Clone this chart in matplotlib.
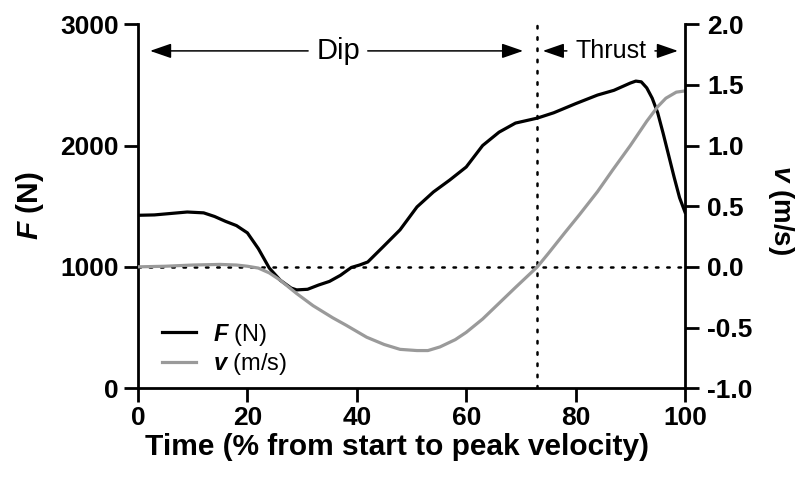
import matplotlib
matplotlib.use("Agg")
import matplotlib.pyplot as plt

plt.rcParams['font.family'] = ['Liberation Sans', 'DejaVu Sans']
plt.rcParams['mathtext.fontset'] = 'custom'
plt.rcParams['mathtext.rm'] = 'Liberation Sans'
plt.rcParams['mathtext.it'] = 'Liberation Sans:italic'
plt.rcParams['mathtext.bf'] = 'Liberation Sans:bold'
if 'mathtext.bfit' in plt.rcParams:
    plt.rcParams['mathtext.bfit'] = 'Liberation Sans:bold:italic'

# force trace (N) vs time (% from start to peak velocity)
time_f = [0, 3, 6, 9, 12, 14, 16, 18, 20, 22, 24, 26, 28, 29, 31, 33, 35, 37,
          39, 40.5, 42, 44.8, 47.9, 51, 54, 57, 60, 63, 66, 69, 73, 76, 80, 84,
          87, 89, 90, 91, 92, 93, 94, 95, 96, 97, 98, 99, 100]
force = [1425, 1428, 1440, 1452, 1445, 1415, 1375, 1340, 1280, 1150, 990, 890,
         825, 810, 815, 850, 880, 930, 995, 1015, 1040, 1165, 1305, 1494, 1617,
         1716, 1823, 2000, 2110, 2185, 2226, 2270, 2345, 2416, 2455, 2495,
         2515, 2531, 2525, 2475, 2390, 2270, 2100, 1920, 1740, 1570, 1450]

# velocity trace (m/s)
time_v = [0, 5, 10, 15, 18, 20, 22, 24, 26, 29, 32, 35.6, 38, 41.8, 45, 47.9,
          51, 53, 55.2, 58, 60, 63, 66, 69, 73, 75, 78, 80.7, 84, 86.8, 90, 93,
          95, 96.5, 98.4, 100]
vel = [0.0, 0.005, 0.015, 0.02, 0.015, 0.005, -0.01, -0.05, -0.11, -0.22,
       -0.32, -0.42, -0.48, -0.58, -0.64, -0.68, -0.69, -0.69, -0.66, -0.6,
       -0.54, -0.43, -0.30, -0.17, 0.0, 0.11, 0.28, 0.43, 0.62, 0.80, 1.00,
       1.20, 1.32, 1.39, 1.44, 1.45]

phase_split = 73      # dip -> thrust, where v crosses zero
arrow_level = 2780

fig = plt.figure(figsize=(8, 4.84), dpi=100)
ax = fig.add_axes([0.1725, 0.198, 0.6838, 0.752])
ax2 = ax.twinx()

dots = (0, (1, 3.5))
ax.plot([0, 100], [1000, 1000], color='black', lw=1.8, ls=dots,
        dash_capstyle='round')
ax.plot([phase_split, phase_split], [0, 3000], color='black', lw=1.8, ls=dots,
        dash_capstyle='round')

lf, = ax.plot(time_f, force, color='black', lw=2.3)
lv, = ax2.plot(time_v, vel, color='#9a9a9a', lw=2.3)

ax.set_xlim(0, 100)
ax.set_ylim(0, 3000)
ax2.set_ylim(-1, 2)
ax.set_xticks([0, 20, 40, 60, 80, 100])
ax.set_yticks([0, 1000, 2000, 3000])
ax2.set_yticks([-1.0, -0.5, 0.0, 0.5, 1.0, 1.5, 2.0])
ax2.set_yticklabels(['-1.0', '-0.5', '0.0', '0.5', '1.0', '1.5', '2.0'])

for a in (ax, ax2):
    a.spines['top'].set_visible(False)
    for s in a.spines.values():
        s.set_linewidth(2.0)
ax.spines['right'].set_visible(False)
ax2.spines['left'].set_visible(False)
ax2.spines['bottom'].set_visible(False)

ax.tick_params(axis='both', length=10, width=2, labelsize=19)
ax.tick_params(axis='x', pad=3)
ax.tick_params(axis='y', pad=4)
ax2.tick_params(axis='y', length=10, width=2, labelsize=19, pad=6)
for t in ax.get_xticklabels() + ax.get_yticklabels() + ax2.get_yticklabels():
    t.set_fontweight('bold')

ax.set_xlabel('Time (% from start to peak velocity)', fontsize=21.5,
              fontweight='bold')
ax.xaxis.set_label_coords(0.474, -0.162)
ax.xaxis.label.set_va('center')
ax.set_ylabel(r'$\mathbfit{F}$ (N)', fontsize=21.5, fontweight='bold')
ax.yaxis.set_label_coords(-0.197, 0.5)
ax.yaxis.label.set_va('center')
ax2.set_ylabel(r'$\mathbfit{v}$ (m/s)', fontsize=20, fontweight='bold',
               rotation=270)
ax2.yaxis.set_label_coords(1.176, 0.49)
ax2.yaxis.label.set_va('center')
ax2.yaxis.label.set_ha('center')

# phase annotations
arr = dict(arrowstyle='-|>,head_length=1.3,head_width=0.45', color='black',
           lw=1.1, shrinkA=0, shrinkB=0, mutation_scale=10)
ax.annotate('', xy=(2.2, arrow_level), xytext=(31.1, arrow_level), arrowprops=arr)
ax.annotate('', xy=(70.4, arrow_level), xytext=(42.0, arrow_level), arrowprops=arr)
ax.text(36.6, arrow_level, 'Dip', fontsize=21, ha='center', va='center')
ax.annotate('', xy=(74.0, arrow_level), xytext=(78.4, arrow_level), arrowprops=arr)
ax.annotate('', xy=(98.7, arrow_level), xytext=(94.5, arrow_level), arrowprops=arr)
ax.text(86.5, arrow_level, 'Thrust', fontsize=18, ha='center', va='center')

ax2.legend([lf, lv], [r'$\mathbfit{F}$ (N)', r'$\mathbfit{v}$ (m/s)'],
           loc='lower left', bbox_to_anchor=(0.044, 0.03), frameon=False,
           fontsize=17, handlelength=1.45, handletextpad=0.7, borderpad=0,
           borderaxespad=0, labelspacing=0.15)

fig.savefig('out.png', dpi=100)
